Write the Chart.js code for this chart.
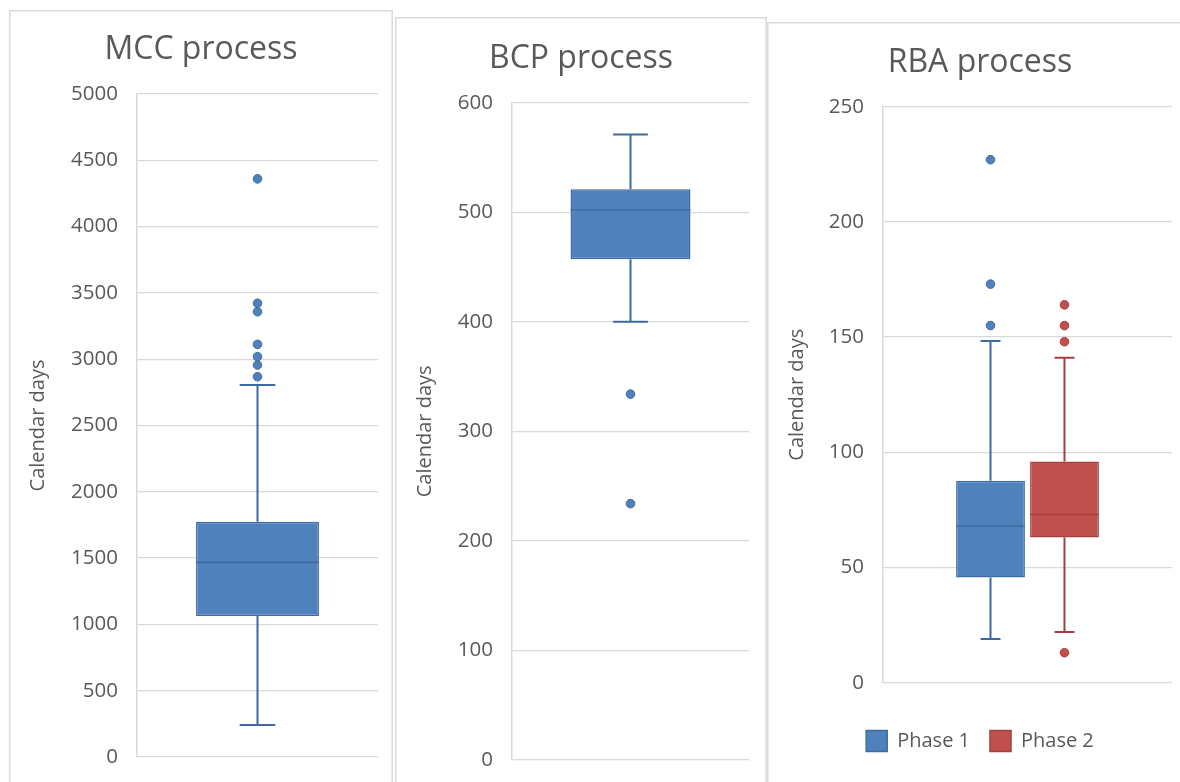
<!DOCTYPE html>
<html>
<head>
<meta charset="utf-8">
<title>Calendar days per process</title>
<script src="https://cdn.jsdelivr.net/npm/chart.js@4.4.1/dist/chart.umd.min.js"></script>
<style>
  html, body { margin: 0; padding: 0; background: #ffffff; }
  body { width: 1180px; height: 782px; overflow: hidden; position: relative; }
  .panel { position: absolute; box-shadow: inset 0 0 0 1.5px #dadada; background: transparent; }
  .panel canvas { position: absolute; left: 0; top: 0; }
</style>
</head>
<body>
<div class="panel" id="p1" style="left:9px; top:10px; width:384px; height:800px;">
  <canvas id="mcc" width="384" height="772"></canvas>
</div>
<div class="panel" id="p2" style="left:395px; top:17px; width:372px; height:800px;">
  <canvas id="bcp" width="372" height="765"></canvas>
</div>
<div class="panel" id="p3" style="left:767px; top:22px; width:426px; height:800px;">
  <canvas id="rba" width="426" height="760"></canvas>
</div>
<script>
// Box summaries: [lower whisker, Q1, median, Q3, upper whisker]
const mccBox = [241, 1063, 1468, 1775, 2806];
const mccOutliers = [2868, 2956, 3019, 3112, 3358, 3422, 4360];

const bcpBox = [400, 457, 502, 521, 571];
const bcpOutliers = [234, 334];

const rbaPhase1Box = [19, 45.7, 68, 87.7, 148.3];
const rbaPhase1Outliers = [155, 173, 227];
const rbaPhase2Box = [22, 63, 73, 96, 141];
const rbaPhase2Outliers = [13, 148, 155, 164];

// Axis ranges: [min, max, step]
const mccAxis = [0, 5000, 500];
const bcpAxis = [0, 600, 100];
const rbaAxis = [0, 250, 50];

const seriesNames = ['Phase 1', 'Phase 2'];
const axisTitle = 'Calendar days';

const BLUE = '#4f81bd', BLUE_LINE = '#3d6b9f';
const RED = '#c0504d', RED_LINE = '#a3403d';
const TEXT = '#595959';
const GRID = '#d9d9d9';

Chart.defaults.font.family = "'Open Sans', 'Noto Sans', sans-serif";
Chart.defaults.color = TEXT;

// Draws whiskers, caps, median and outlier dots on top of each floating box bar
const boxWhiskers = {
  id: 'boxWhiskers',
  afterDatasetsDraw(chart) {
    const ctx = chart.ctx;
    const y = chart.scales.y;
    chart.data.datasets.forEach((ds, i) => {
      const meta = chart.getDatasetMeta(i);
      meta.data.forEach((bar) => {
        const s = ds.summary;
        const cx = bar.x;
        const w = bar.width;
        const cap = w * 0.29;
        const pLo = y.getPixelForValue(s[0]);
        const pQ1 = y.getPixelForValue(s[1]);
        const pMed = y.getPixelForValue(s[2]);
        const pQ3 = y.getPixelForValue(s[3]);
        const pHi = y.getPixelForValue(s[4]);
        ctx.save();
        ctx.strokeStyle = ds.borderColor;
        ctx.lineWidth = 2;
        ctx.beginPath();
        ctx.moveTo(cx, pQ3); ctx.lineTo(cx, pHi);
        ctx.moveTo(cx - cap / 2, pHi); ctx.lineTo(cx + cap / 2, pHi);
        ctx.moveTo(cx, pQ1); ctx.lineTo(cx, pLo);
        ctx.moveTo(cx - cap / 2, pLo); ctx.lineTo(cx + cap / 2, pLo);
        ctx.stroke();
        ctx.lineWidth = 1.6;
        ctx.beginPath();
        ctx.moveTo(cx - w / 2, pMed); ctx.lineTo(cx + w / 2, pMed);
        ctx.stroke();
        ctx.fillStyle = ds.backgroundColor;
        ctx.lineWidth = 1;
        ds.outliers.forEach((v) => {
          ctx.beginPath();
          ctx.arc(cx, y.getPixelForValue(v), 4.3, 0, Math.PI * 2);
          ctx.fill();
          ctx.stroke();
        });
        ctx.restore();
      });
    });
  }
};

function boxDataset(label, box, outliers, fill, line, catPct, barPct) {
  return {
    label: label,
    data: [[box[1], box[3]]],
    summary: box,
    outliers: outliers,
    backgroundColor: fill,
    borderColor: line,
    borderWidth: 1.5,
    borderSkipped: false,
    categoryPercentage: catPct,
    barPercentage: barPct
  };
}

function makeChart(id, titleText, datasets, axis, lay) {
  const showLegend = datasets.length > 1;
  return new Chart(document.getElementById(id), {
    type: 'bar',
    data: { labels: [''], datasets: datasets },
    plugins: [boxWhiskers],
    options: {
      responsive: false,
      animation: false,
      events: [],
      layout: { padding: { left: 0, right: 0, top: 0, bottom: lay.bottom } },
      plugins: {
        title: {
          display: true,
          text: titleText,
          color: TEXT,
          font: { size: 32, weight: 'normal', lineHeight: 1.2 },
          padding: { top: lay.titleTop, bottom: lay.titleBottom }
        },
        legend: {
          display: showLegend,
          position: 'bottom',
          labels: {
            boxWidth: 21,
            boxHeight: 21,
            padding: 20,
            color: TEXT,
            font: { size: 20 }
          }
        },
        tooltip: { enabled: false }
      },
      scales: {
        x: {
          display: showLegend,
          grid: { display: false },
          border: { display: false },
          ticks: { display: false },
          afterFit: (s) => { s.height = lay.xHeight || 0; }
        },
        y: {
          min: axis[0],
          max: axis[1],
          ticks: {
            stepSize: axis[2],
            padding: 0,
            color: TEXT,
            font: { size: 20.5 },
            callback: (v) => String(v)
          },
          grid: { color: GRID, lineWidth: 1.3, drawTicks: true, tickLength: 19, tickColor: 'rgba(0,0,0,0)' },
          border: { display: true, color: GRID, width: 1.5 },
          title: {
            display: true,
            text: axisTitle,
            color: TEXT,
            font: { size: 20, lineHeight: 1.2 },
            padding: { top: lay.axisTitlePad, bottom: 0 }
          },
          afterFit: (s) => { s.width = lay.yWidth; }
        },
        y2: {
          position: 'right',
          display: true,
          grid: { display: false },
          border: { display: false },
          ticks: { display: false },
          afterFit: (s) => { s.width = lay.rightWidth; }
        }
      }
    }
  });
}

makeChart('mcc', 'MCC process',
  [boxDataset(seriesNames[0], mccBox, mccOutliers, BLUE, BLUE_LINE, 0.51, 1)],
  mccAxis,
  { bottom: 25, titleTop: 21, titleBottom: 24.6, yWidth: 128, rightWidth: 15, axisTitlePad: 17.3 });

makeChart('bcp', 'BCP process',
  [boxDataset(seriesNames[0], bcpBox, bcpOutliers, BLUE, BLUE_LINE, 0.506, 1)],
  bcpAxis,
  { bottom: 22, titleTop: 22.4, titleBottom: 24.9, yWidth: 117, rightWidth: 18, axisTitlePad: 18 });

makeChart('rba', 'RBA process',
  [boxDataset(seriesNames[0], rbaPhase1Box, rbaPhase1Outliers, BLUE, BLUE_LINE, 0.512, 0.93),
   boxDataset(seriesNames[1], rbaPhase2Box, rbaPhase2Outliers, RED, RED_LINE, 0.512, 0.93)],
  rbaAxis,
  { bottom: 20.5, titleTop: 21.4, titleBottom: 24.9, yWidth: 116, rightWidth: 21, axisTitlePad: 18, xHeight: 27.8 });
</script>
</body>
</html>
